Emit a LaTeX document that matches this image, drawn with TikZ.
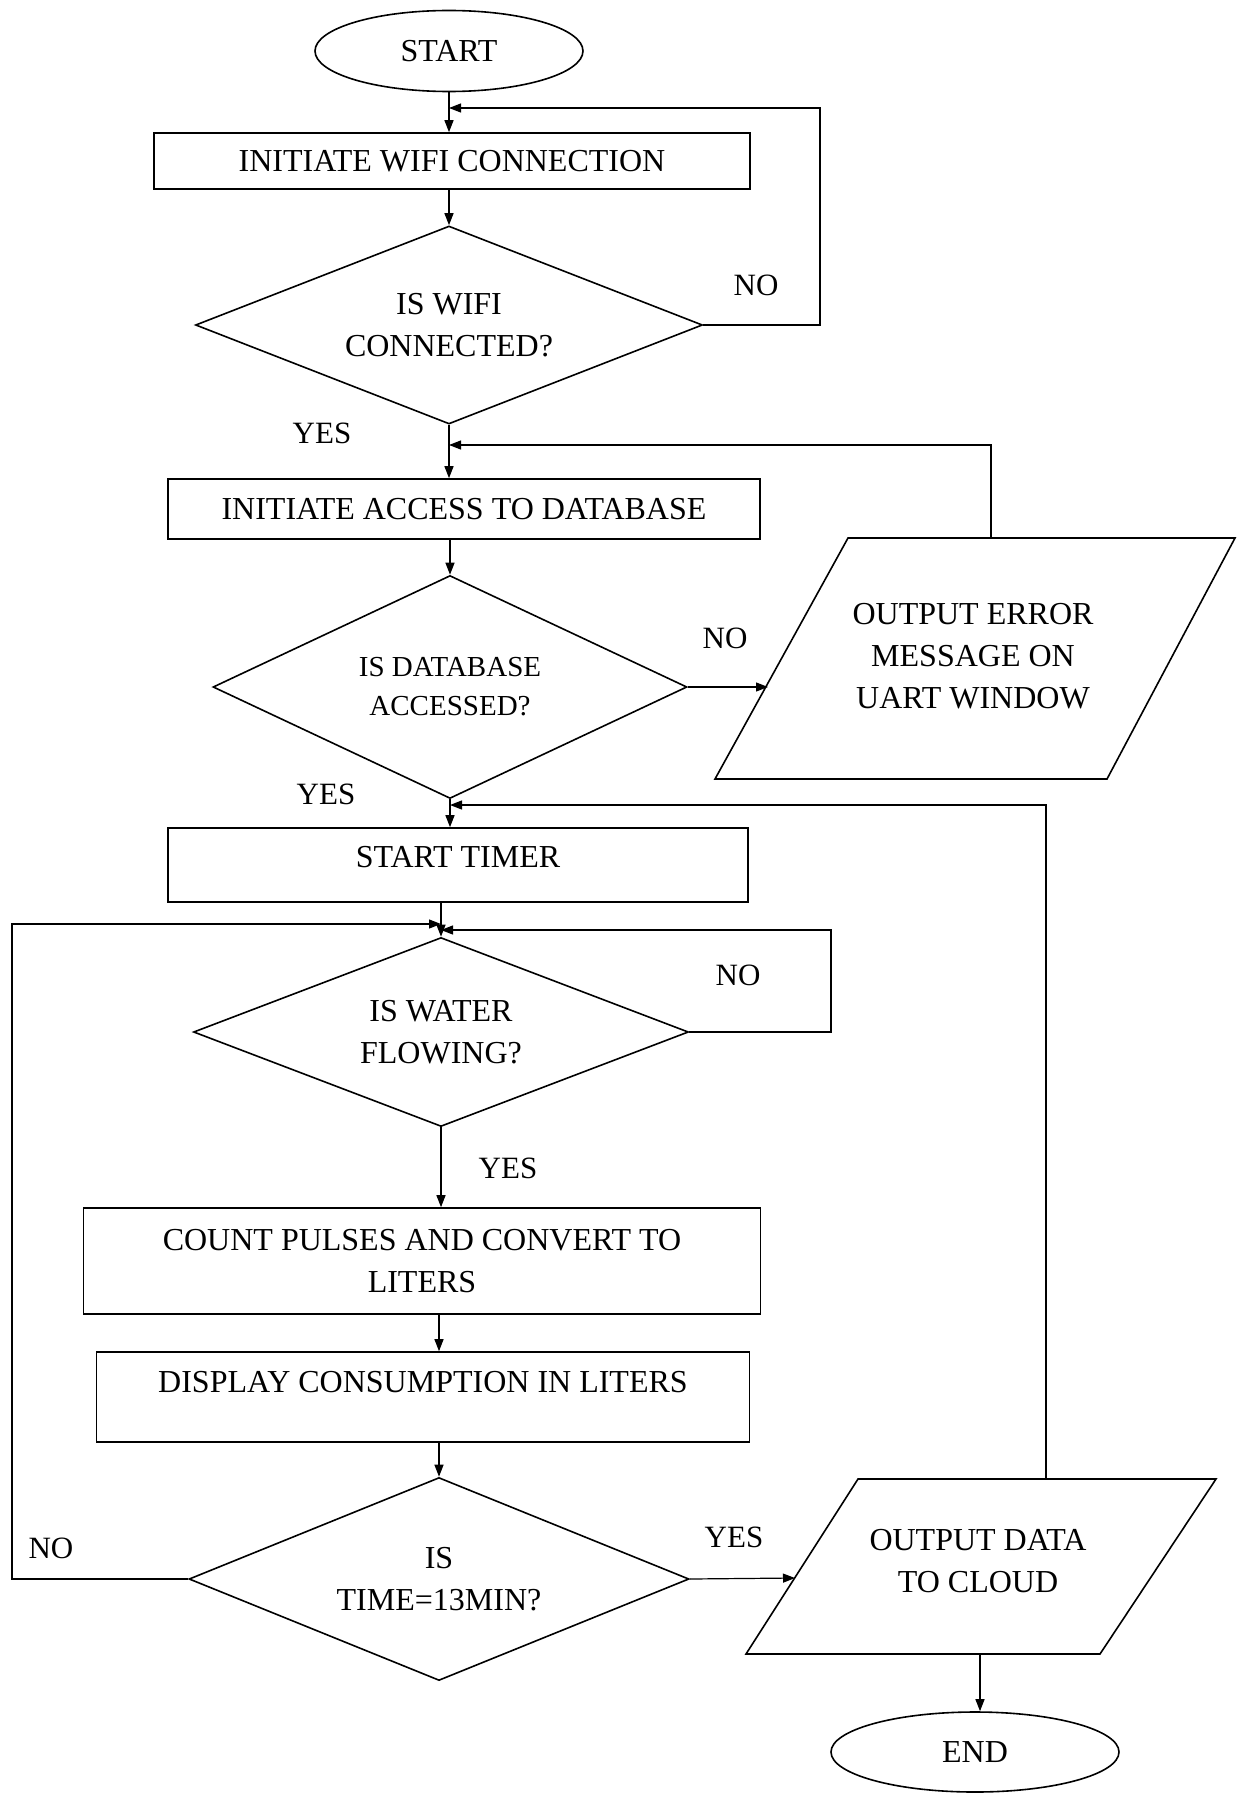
\documentclass[tikz,border=0pt]{standalone}
\usepackage{fontspec}
\setmainfont{Liberation Serif}
\usetikzlibrary{shapes.geometric,arrows.meta}
\begin{document}
\begin{tikzpicture}[x=0.5pt,y=-0.5pt,
  every node/.style={font=\fontsize{16pt}{21pt}\selectfont, align=center},
  shape line/.style={draw, line width=0.8pt},
  terminal/.style={shape line, ellipse, inner sep=0pt},
  procbox/.style={shape line, rectangle, inner sep=0pt},
  decision/.style={shape line, diamond, inner sep=0pt},
  lbl/.style={font=\fontsize{15.5pt}{19pt}\selectfont},
  flow/.style={line width=0.6pt, -{Triangle[length=6pt,width=4.5pt]}}
]
\useasboundingbox (0,0) rectangle (1241,1793);

% ---------- upper column ----------
\node[terminal, minimum width=134pt, minimum height=40.5pt] (start) at (449,51) {START};
\node[procbox, minimum width=298pt, minimum height=28pt] (b1) at (452,161) {INITIATE WIFI CONNECTION};
\node[decision, aspect=2.56, minimum width=253.5pt, minimum height=99pt] (d1) at (449,325) {IS WIFI\\CONNECTED?};
\node[procbox, minimum width=296pt, minimum height=30pt] (b2) at (464,509) {INITIATE ACCESS TO DATABASE};
\node[decision, aspect=2.13, minimum width=237pt, minimum height=111.5pt,
      font=\fontsize{14.5pt}{19.5pt}\selectfont] (d2) at (450,687) {IS DATABASE\\ACCESSED?};
\node[procbox, minimum width=290pt, minimum height=37pt] (b3) at (458,865) {};
\node (b3t) at (458,857) {START TIMER};

% ---------- lower column ----------
\node[decision, aspect=2.62, minimum width=247.5pt, minimum height=94.5pt] (d3) at (441,1032) {IS WATER\\FLOWING?};
\node[procbox, minimum width=338.5pt, minimum height=53pt] (b4) at (422,1261) {COUNT PULSES AND CONVERT TO\\LITERS};
\node[procbox, minimum width=326.5pt, minimum height=45pt] (b5) at (423,1397) {};
\node (b5t) at (423,1382) {DISPLAY CONSUMPTION IN LITERS};
\node[decision, aspect=2.46, minimum width=250pt, minimum height=101.5pt] (d4) at (439,1579) {IS\\TIME=13MIN?};

% ---------- output blocks ----------
\coordinate (p1a) at (848,538);
\coordinate (p1b) at (1235,538);
\coordinate (p1c) at (1107,779);
\coordinate (p1d) at (715,779);
\draw[shape line] (p1a) -- (p1b) -- (p1c) -- (p1d) -- cycle;
\node (p1) at (973,656) {OUTPUT ERROR\\MESSAGE ON\\UART WINDOW};

\coordinate (p2a) at (858,1479);
\coordinate (p2b) at (1216,1479);
\coordinate (p2c) at (1100,1654);
\coordinate (p2d) at (746,1654);
\draw[shape line] (p2a) -- (p2b) -- (p2c) -- (p2d) -- cycle;
\node (p2) at (978,1561) {OUTPUT DATA\\TO CLOUD};

\node[terminal, minimum width=144pt, minimum height=40pt] (end) at (975,1752) {END};

% ---------- connection points ----------
\coordinate (j1) at (449,108);
\coordinate (r1) at (820,108);
\coordinate (j2) at (449,445);
\coordinate (p1out) at (991,538);
\coordinate (p1in) at (768,687);
\coordinate (j3) at (450,805);
\coordinate (p2out) at (1046,1479);
\coordinate (j4) at (441,930);
\coordinate (r3) at (831,930);
\coordinate (j5) at (441,924);
\coordinate (l4) at (12,924);
\coordinate (p2in) at (795,1578);
\coordinate (p2bot) at (980,1654);

% ---------- main flow ----------
\draw[flow] (start.south) -- (start.south |- b1.north);
\draw[flow] (b1.south -| d1.north) -- (d1.north);
\draw[flow] (d1.south) -- (d1.south |- b2.north);
\draw[flow] (b2.south -| d2.north) -- (d2.north);
\draw[flow] (d2.south) -- (d2.south |- b3.north);
\draw[flow] (b3.south -| d3.north) -- (d3.north);
\draw[flow] (d3.south) -- (d3.south |- b4.north);
\draw[flow] (b4.south -| d4.north) -- (b5.north -| d4.north);
\draw[flow] (b5.south -| d4.north) -- (d4.north);
\draw[flow] (d2.east) -- (p1in);
\draw[flow] (d4.east) -- (p2in);
\draw[flow] (p2bot) -- (p2bot |- end.north);

% ---------- loops ----------
\draw[flow] (d1.east) -| (r1) -- (j1);
\draw[flow] (p1out) |- (j2);
\draw[flow] (p2out) |- (j3);
\draw[flow] (d3.east) -| (r3) -- (j4);
\draw[flow] (d4.west) -| (l4) -- (j5);

% ---------- branch labels ----------
\node[lbl] (no1) at (756,285) {NO};
\node[lbl] (yes1) at (322,433) {YES};
\node[lbl] (no2) at (725,638) {NO};
\node[lbl] (yes2) at (326,794) {YES};
\node[lbl] (no3) at (738,975) {NO};
\node[lbl] (yes3) at (508,1168) {YES};
\node[lbl] (no4) at (51,1548) {NO};
\node[lbl] (yes4) at (734,1537) {YES};
\end{tikzpicture}
\end{document}
